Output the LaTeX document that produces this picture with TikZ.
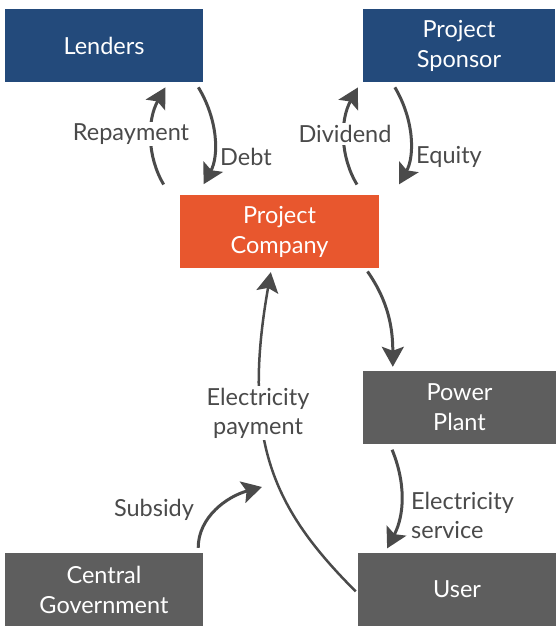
\documentclass[tikz,border=0pt]{standalone}
\usepackage{fontspec}
\setmainfont{Lato}
\usetikzlibrary{arrows.meta}
\definecolor{lenderBlue}{HTML}{234A7B}
\definecolor{companyOrange}{HTML}{E8572E}
\definecolor{plantGray}{HTML}{5E5E5E}
\definecolor{flowGray}{HTML}{4A4A4A}

\begin{document}
\begin{tikzpicture}[
  x=1pt, y=1pt,
  every box/.style={
    inner sep=0pt,
    text=white,
    align=center,
    font=\fontsize{23.5}{30}\selectfont,
    minimum height=73pt,
  },
  blue box/.style={every box, fill=lenderBlue},
  orange box/.style={every box, fill=companyOrange},
  gray box/.style={every box, fill=plantGray},
  flow/.style={
    draw=flowGray,
    line width=3pt,
    -{Stealth[length=20pt,width=22pt,inset=4pt]},
  },
  flow label/.style={
    text=flowGray,
    inner sep=2pt,
    font=\fontsize{23.5}{29}\selectfont,
  },
]
\useasboundingbox (0,0) rectangle (557,628);
% boxes
\node[blue box, minimum width=198pt] (lenders) at (104,582.5) {Lenders};
\node[blue box, minimum width=192pt] (sponsor) at (459,582.5) {Project\\Sponsor};
\node[orange box, minimum width=199pt] (company) at (279.5,396.5) {Project\\Company};
\node[gray box, minimum width=193pt] (plant) at (459.5,220.5) {Power\\Plant};
\node[gray box, minimum width=198pt] (gov) at (104,38.5) {Central\\Government};
\node[gray box, minimum width=198pt] (user) at (457,38.5) {User};
% money and service flows
\draw[flow, shorten <=12pt, shorten >=6pt] ([xshift=-10pt]company.north west) to[bend left=30] ([xshift=-35pt]lenders.south east);
\draw[flow, shorten <=6pt, shorten >=12pt] ([xshift=-8pt]lenders.south east) to[bend left=30] ([xshift=18pt]company.north west);
\draw[flow, shorten <=12pt, shorten >=6pt] ([xshift=-16pt]company.north east) to[bend left=30] ([xshift=-2pt]sponsor.south west);
\draw[flow, shorten <=6pt, shorten >=12pt] ([xshift=29pt]sponsor.south west) to[bend left=30] ([xshift=14pt]company.north east);
\draw[flow, shorten <=4pt, shorten >=4pt] ([xshift=-14pt]company.south east) to[out=-55, in=90] ([xshift=30pt]plant.north west);
\draw[flow, shorten <=6pt, shorten >=5pt] ([xshift=27pt]plant.south west) to[bend left=25] ([xshift=27pt]user.north west);
\draw[flow, line width=2.5pt, shorten <=3pt, shorten >=4pt] ([yshift=-4pt]user.west) .. controls +(135:120) and +(-100:175) .. ([xshift=-8pt]company.south);
\coordinate (subsidyEnd) at (262,141);
\draw[flow, shorten <=5pt] ([xshift=-5pt]gov.north east) to[out=90, in=195] (subsidyEnd);
% labels
\node[flow label, fill=white] (repayLbl) at (131,494) {Repayment};
\node[flow label] (debtLbl) at (246,471) {Debt};
\node[flow label, fill=white] (divLbl) at (345,494) {Dividend};
\node[flow label] (equityLbl) at (449,471) {Equity};
\node[flow label, fill=white, align=center] (payLbl) at (258,215) {Electricity\\payment};
\node[flow label] (subsidyLbl) at (154,118) {Subsidy};
\node[flow label, align=left, anchor=west] (serviceLbl) at (409,113) {Electricity\\service};
\end{tikzpicture}
\end{document}
